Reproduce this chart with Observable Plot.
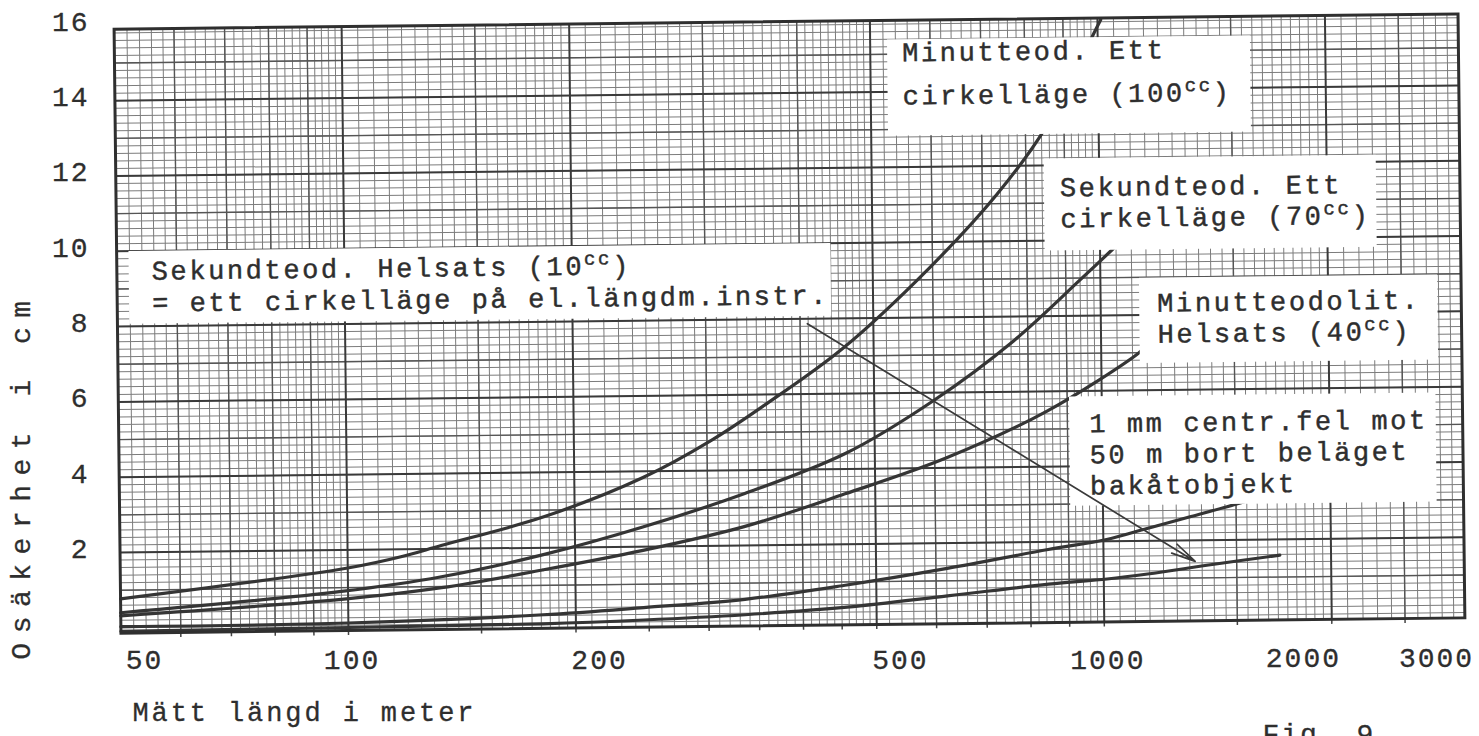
<!DOCTYPE html>
<html>
<head>
<meta charset="utf-8">
<script src="https://cdn.jsdelivr.net/npm/d3@7"></script>
<script src="https://cdn.jsdelivr.net/npm/@observablehq/plot@0.6"></script>
<style>
html, body { margin: 0; padding: 0; background: #fff; }
#chart { width: 1479px; height: 736px; overflow: hidden; position: relative; background: #fff; }
</style>
</head>
<body>
<div id="chart"></div>
<script>
// ---------------- data ----------------
const seriesNames = [
  "Minutteod. Ett cirkelläge (100cc)",
  "Sekundteod. Ett cirkelläge (70cc)",
  "Minutteodolit. Helsats (40cc)",
  "1 mm centr.fel mot 50 m bort beläget bakåtobjekt",
  "Sekundteod. Helsats (10cc)"
];
// measured length (m) and uncertainty (cm)
const len1 = [50, 100, 118, 133, 182, 247, 304, 358, 455, 594, 732, 848, 995, 1010];
const val1 = [0.77, 1.52, 1.81, 2.09, 2.82, 3.84, 4.80, 5.72, 7.2, 9.31, 11.25, 12.96, 15.6, 15.85];
const len2 = [50, 98, 133, 181, 246, 336, 457, 598, 766, 940, 1045, 1110];
const val2 = [0.40, 0.90, 1.26, 1.81, 2.52, 3.38, 4.41, 5.78, 7.35, 8.95, 9.8, 10.3];
const len3 = [50, 98, 133, 181, 246, 335, 456, 621, 845, 1119, 1150];
const val3 = [0.32, 0.69, 0.97, 1.41, 1.9, 2.5, 3.34, 4.26, 5.47, 6.98, 7.2];
const len4 = [50, 100, 181, 246, 335, 457, 621, 845, 1010, 1143, 1300, 1507, 1560];
const val4 = [0.03, 0.06, 0.22, 0.38, 0.57, 0.92, 1.33, 1.8, 2.05, 2.33, 2.62, 2.96, 3.05];
const len5 = [50, 100, 181, 246, 335, 457, 621, 845, 1010, 1143, 1400, 1711];
const val5 = [-0.09, -0.06, -0.02, 0.05, 0.16, 0.33, 0.6, 0.88, 1.0, 1.12, 1.36, 1.58];

const xTickValues = [50, 100, 200, 500, 1000, 2000, 3000];
const yTickValues = [2, 4, 6, 8, 10, 12, 14, 16];

const labelTexts = [
  "Minutteod. Ett\ncirkelläge (100^cc)",
  "Sekundteod. Ett\ncirkelläge (70^cc)",
  "Sekundteod. Helsats (10^cc)\n= ett cirkelläge på el.längdm.instr.",
  "Minutteodolit.\nHelsats (40^cc)",
  "1 mm centr.fel mot\n50 m bort beläget\nbakåtobjekt"
];
// anchor of each label (left end of the last line's baseline), in data units
const labelX = [551, 887, 55.6, 1188, 962];
const labelY = [13.66, 10.35, 8.39, 7.26, 3.25];

// arrow from the "Sekundteod. Helsats" label to its curve
const arrowFrom = [409, 7.87];
const arrowTo = [1322, 1.44];

const xTitle = "Mätt längd i meter";
const yTitle = "Osäkerhet i cm";
const figTitle = "Fig. 9";

// ---------------- styling ----------------
const labelLineHeight = [1.6, 1.15, 1.18, 1.15, 1.15];
const boxPad = [[0, 19, 23, 15], [16, 6, 15, 16], [3, 2, 4, 23], [12, 17, 12, 18], [14, 8, 3, 20]]; // top,right,bottom,left
const INK = "#2e2e2e";
const FONT = "Liberation Mono, Courier New, monospace";

// ---------------- table ----------------
const lens = [len1, len2, len3, len4, len5];
const vals = [val1, val2, val3, val4, val5];
const lineData = seriesNames.flatMap((name, s) => lens[s].map((m, i) => ({series: name, m, v: vals[s][i]})));
const labels = labelTexts.map((text, i) => ({text, m: labelX[i], v: labelY[i]}));
const arrowData = [{m1: arrowFrom[0], v1: arrowFrom[1], m2: arrowTo[0], v2: arrowTo[1]}];

// graph paper lines
function seq(a, b, step) { const out = []; for (let v = a; v <= b + 1e-9; v += step) out.push(+v.toFixed(4)); return out; }
const minorX = [...seq(52, 98, 2), ...seq(105, 195, 5), ...seq(210, 490, 10), ...seq(520, 980, 20), ...seq(1050, 1950, 50), ...seq(2100, 2900, 100)];
const mediumX = [60, 70, 80, 90, 150, 300, 400, 600, 700, 800, 900, 1500, 2500];
const majorX = [100, 200, 500, 1000, 2000];
const minorY = seq(0, 15.8, 0.2);
const mediumY = seq(1, 15, 2);
const majorY = seq(2, 14, 2);
const bottomTicks = [60, 70, 80, 90, 100, 150, 200, 250, 300, 350, 400, 450, 500, 600, 700, 800, 900, 1000, 1500, 2000, 2500];

const yDomain = [-0.14, 15.9];
const txt = {fontFamily: FONT, fill: INK, stroke: INK, strokeWidth: 0.3};

const labelMarks = labels.map((d, i) => Plot.text([d], {
  x: "m", y: "v", text: "text",
  textAnchor: "start", lineAnchor: "bottom", lineHeight: labelLineHeight[i],
  fontSize: 27, ...txt, strokeWidth: 0.45,
  ariaDescription: "boxed label"
}));

const svg = Plot.plot({
  width: 1479, height: 736,
  marginLeft: 117, marginRight: 18, marginTop: 21, marginBottom: 111,
  style: {fontFamily: FONT, background: "#fff", overflow: "visible", letterSpacing: "2.6px"},
  x: {type: "log", domain: [50, 3000], axis: null},
  y: {domain: yDomain, axis: null},
  marks: [
    Plot.ruleX(minorX, {stroke: "#7c7c7c", strokeWidth: 1}),
    Plot.ruleY(minorY, {stroke: "#7c7c7c", strokeWidth: 1}),
    Plot.ruleX(mediumX, {stroke: "#555", strokeWidth: 1.4}),
    Plot.ruleY(mediumY, {stroke: "#555", strokeWidth: 1.4}),
    Plot.ruleX(majorX, {stroke: "#3a3a3a", strokeWidth: 2}),
    Plot.ruleY(majorY, {stroke: "#3a3a3a", strokeWidth: 2}),
    Plot.ruleX(bottomTicks, {y1: yDomain[0], y2: yDomain[0], insetBottom: -5, stroke: "#444", strokeWidth: 1.5}),
    Plot.line(lineData, {x: "m", y: "v", z: "series", stroke: "#353535", strokeWidth: 3.2, curve: "catmull-rom"}),
    ...labelMarks,
    Plot.arrow(arrowData, {x1: "m1", y1: "v1", x2: "m2", y2: "v2", stroke: "#3a3a3a", strokeWidth: 1.7, headLength: 22, headAngle: 24}),
    Plot.frame({stroke: "#2f2f2f", strokeWidth: 3}),
    // axis texts (typed separately on the page, not tilted)
    Plot.text(xTickValues.filter(d => [50, 200, 500].includes(d)), {x: d => d, text: d => String(d), frameAnchor: "bottom", dy: 43, dx: 27, fontSize: 28, ...txt, ariaDescription: "x tick labels"}),
    Plot.text(xTickValues.filter(d => [100, 1000].includes(d)), {x: d => d, text: d => String(d), frameAnchor: "bottom", dy: 43, dx: 7, fontSize: 28, ...txt, ariaDescription: "x tick labels"}),
    Plot.text(xTickValues.filter(d => [2000, 3000].includes(d)), {x: d => d, text: d => String(d), frameAnchor: "bottom", dy: 41, dx: -25, fontSize: 28, ...txt, ariaDescription: "x tick labels"}),
    Plot.text(yTickValues, {y: d => d, text: d => String(d), frameAnchor: "left", textAnchor: "end", dx: -28, dy: 4, fontSize: 28, ...txt, ariaDescription: "y tick labels"}),
    Plot.text([yTitle], {frameAnchor: "left", rotate: -90, textAnchor: "middle", dx: -96, dy: 152, fontSize: 28, ...txt, ariaDescription: "y label"}),
    Plot.text([xTitle], {frameAnchor: "bottom-left", textAnchor: "start", lineAnchor: "bottom", dx: 15, dy: 95, fontSize: 27, ...txt, ariaDescription: "x label"}),
    Plot.text([figTitle], {frameAnchor: "bottom-left", textAnchor: "start", lineAnchor: "bottom", dx: 1145, dy: 117, fontSize: 28, ...txt, ariaDescription: "fig label"})
  ]
});

document.getElementById("chart").appendChild(svg);
const NS = "http://www.w3.org/2000/svg";

// superscript "cc"
svg.querySelectorAll("text, tspan").forEach(el => {
  if (el.children.length === 0 && el.textContent.includes("^")) {
    const [before, rest] = el.textContent.split("^");
    el.textContent = before;
    const sup = document.createElementNS(NS, "tspan");
    sup.setAttribute("dy", "-10"); sup.setAttribute("font-size", "19"); sup.textContent = rest.slice(0, 2);
    const after = document.createElementNS(NS, "tspan");
    after.setAttribute("dy", "10"); after.textContent = rest.slice(2);
    el.append(sup, after);
  }
});

const desc = g => g.getAttribute("aria-description") || "";

// white boxes behind the labels
[...svg.querySelectorAll("g")].filter(g => desc(g) === "boxed label").forEach((g, gi) => {
  const boxes = document.createElementNS(NS, "g");
  if (g.getAttribute("transform")) boxes.setAttribute("transform", g.getAttribute("transform"));
  const [pt, pr, pb, pl] = boxPad[gi];
  g.querySelectorAll("text").forEach(t => {
    const bb = t.getBBox();
    const r = document.createElementNS(NS, "rect");
    r.setAttribute("x", bb.x - pl);
    r.setAttribute("y", bb.y - pt);
    r.setAttribute("width", bb.width + pl + pr);
    r.setAttribute("height", bb.height + pt + pb);
    r.setAttribute("fill", "#fff");
    if (t.getAttribute("transform")) r.setAttribute("transform", t.getAttribute("transform"));
    boxes.appendChild(r);
  });
  g.parentNode.insertBefore(boxes, g);
});

// letter spacing per text group
const spacing = {"x tick labels": "2px", "y tick labels": "2px", "y label": "9.5px", "x label": "2.9px", "fig label": "2px"};
[...svg.querySelectorAll("g")].forEach(g => {
  const s = spacing[desc(g)];
  if (s) g.style.letterSpacing = s;
});

// the scanned sheet is slightly tilted: rotate the graph paper and its contents
const wrap = document.createElementNS(NS, "g");
wrap.setAttribute("transform", "rotate(-0.65 790 325)");
[...svg.children].forEach(ch => {
  const tag = ch.tagName.toLowerCase();
  if (tag === "style" || tag === "defs") return;
  if (spacing[desc(ch)]) return;
  wrap.appendChild(ch);
});
svg.appendChild(wrap);
</script>
</body>
</html>
